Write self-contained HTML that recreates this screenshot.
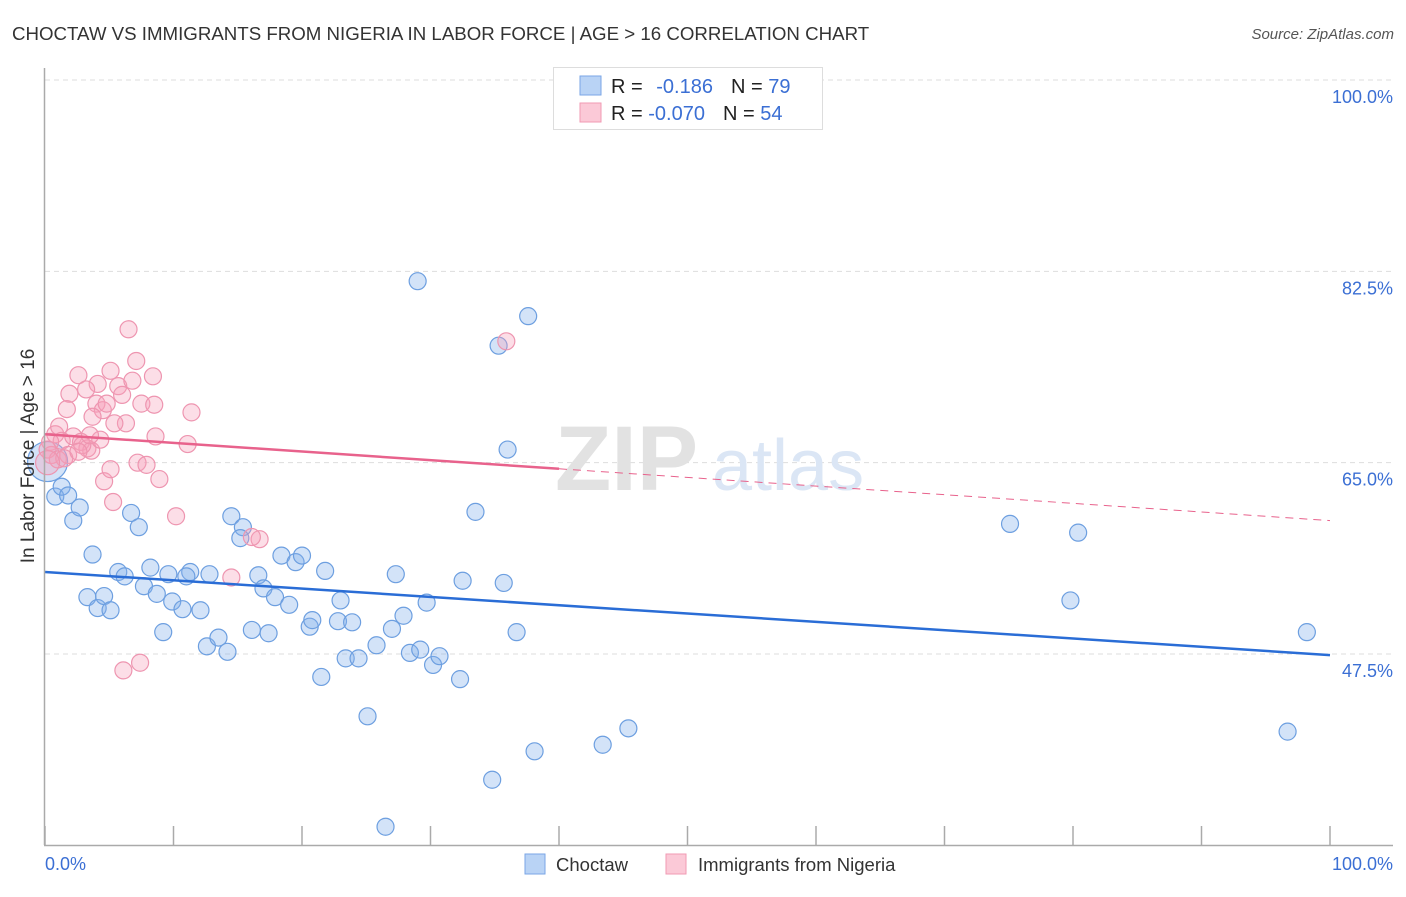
<!DOCTYPE html>
<html><head><meta charset="utf-8">
<style>
body{margin:0;background:#fff;font-family:"Liberation Sans",sans-serif;}
svg text{font-family:"Liberation Sans",sans-serif;}
</style></head>
<body>
<svg id="chart" width="1406" height="892" xmlns="http://www.w3.org/2000/svg">
<text x="12" y="40" font-size="18.7" fill="#333">CHOCTAW VS IMMIGRANTS FROM NIGERIA IN LABOR FORCE | AGE &gt; 16 CORRELATION CHART</text>
<text x="1394" y="39" font-size="15" fill="#555" text-anchor="end" font-style="italic">Source: ZipAtlas.com</text>
<g id="grid"></g>
<text x="555" y="490" font-size="92" fill="#e2e2e2" font-family="Liberation Serif" font-weight="bold">ZIP</text>
<text x="712" y="490" font-size="72" fill="#dbe6f5">atlas</text>
<g id="marks"></g>
<line x1="44.5" y1="68" x2="44.5" y2="845" stroke="#aaa" stroke-width="1.5"/>
<line x1="44" y1="845.5" x2="1393" y2="845.5" stroke="#aaa" stroke-width="1.5"/>
<g id="axes"></g>
<text transform="translate(34,456) rotate(-90)" font-size="19" fill="#333" text-anchor="middle">In Labor Force | Age &gt; 16</text>
<text x="45" y="870" font-size="18" fill="#3b6fd4">0.0%</text>
<text x="1393" y="870" font-size="18" fill="#3b6fd4" text-anchor="end">100.0%</text>
<g>
<rect x="553.5" y="67.5" width="269" height="62" fill="#fff" stroke="#ddd"/>
<rect x="580" y="76" width="21" height="19" fill="#b9d3f5" stroke="#7aa6e6"/>
<rect x="580" y="103" width="21" height="19" fill="#fbc9d7" stroke="#f09ab3"/>
<text x="611" y="93" font-size="20" fill="#222">R = <tspan fill="#3b6fd4" dx="8">-0.186</tspan><tspan dx="18" fill="#222">N = </tspan><tspan fill="#3b6fd4">79</tspan></text>
<text x="611" y="120" font-size="20" fill="#222">R = <tspan fill="#3b6fd4">-0.070</tspan><tspan dx="18" fill="#222">N = </tspan><tspan fill="#3b6fd4">54</tspan></text>
</g>
<g>
<rect x="525" y="854" width="20" height="20" fill="#b9d3f5" stroke="#7aa6e6"/>
<text x="556" y="871" font-size="18.5" fill="#333">Choctaw</text>
<rect x="666" y="854" width="20" height="20" fill="#fbc9d7" stroke="#f09ab3"/>
<text x="698" y="871" font-size="18.5" fill="#333">Immigrants from Nigeria</text>
</g>
</svg>
<script>
const yTicks=[100,82.5,65,47.5];
const yTickLabels=["100.0%","82.5%","65.0%","47.5%"];
const xTicks=[0,10,20,30,40,50,60,70,80,90,100];
const blueX=[29.0,37.6,35.3,36.0,0.8,1.3,1.8,2.2,2.7,3.7,6.7,7.3,5.7,6.2,8.2,3.3,4.1,4.6,5.1,7.7,8.7,9.6,9.2,9.9,10.7,11.3,11.0,12.1,12.8,12.6,13.5,14.2,14.5,15.4,15.2,16.6,17.0,17.9,19.0,16.1,17.4,18.4,19.5,20.0,21.8,20.6,20.8,21.5,23.0,22.8,23.9,23.4,24.4,25.1,25.8,27.0,27.3,27.9,28.4,29.2,29.7,30.2,30.7,32.3,32.5,33.5,35.7,36.7,38.1,34.8,26.5,43.4,45.4,75.1,80.4,79.8,98.2,96.7,0.2];
const blueY=[81.6,78.4,75.7,66.2,61.9,62.8,62.0,59.7,60.9,56.6,60.4,59.1,55.0,54.6,55.4,52.7,51.7,52.8,51.5,53.7,53.0,54.8,49.5,52.3,51.6,55.0,54.6,51.5,54.8,48.2,49.0,47.7,60.1,59.1,58.1,54.7,53.5,52.7,52.0,49.7,49.4,56.5,55.9,56.5,55.1,50.0,50.6,45.4,52.4,50.5,50.4,47.1,47.1,41.8,48.3,49.8,54.8,51.0,47.6,47.9,52.2,46.5,47.3,45.2,54.2,60.5,54.0,49.5,38.6,36.0,31.7,39.2,40.7,59.4,58.6,52.4,49.5,40.4,65.1];
const pinkX=[6.5,7.1,5.1,2.6,4.1,1.9,3.2,4.0,5.7,6.0,8.4,6.8,7.5,8.5,1.7,4.5,4.8,3.7,6.3,11.4,8.6,11.1,0.8,1.1,1.3,2.2,1.8,2.8,3.3,3.6,0.4,0.5,0.2,5.4,7.2,7.9,8.9,4.6,5.1,5.3,10.2,14.5,16.7,16.1,6.1,7.4,35.9,2.9,1.0,1.5,2.6,4.3,3.5,0.2];
const pinkY=[77.2,74.3,73.4,73.0,72.2,71.3,71.7,70.4,72.0,71.2,72.9,72.5,70.4,70.3,69.9,69.8,70.4,69.2,68.6,69.6,67.4,66.7,67.6,68.3,67.0,67.4,65.7,66.9,66.3,66.1,66.9,65.7,66.2,68.6,65.0,64.8,63.5,63.3,64.4,61.4,60.1,54.5,58.0,58.2,46.0,46.7,76.1,66.6,65.3,65.4,66.0,67.1,67.5,65.0];
const blueTrend=[55.0,47.4];
const pinkTrend=[67.6,59.7];
const pinkSolidEnd=40;

const NS="http://www.w3.org/2000/svg";
const X0=45,X1=1330,Y100=80,Y475=654;
function sx(v){return X0+(X1-X0)*v/100;}
function sy(v){return Y100+(100-v)*(Y475-Y100)/52.5;}
function mk(tag,attrs,parent){const e=document.createElementNS(NS,tag);for(const k in attrs)e.setAttribute(k,attrs[k]);parent.appendChild(e);return e;}
const grid=document.getElementById('grid'),axes=document.getElementById('axes'),marks=document.getElementById('marks');
yTicks.forEach((t,i)=>{
  const l=mk('line',{x1:45,x2:1393,y1:sy(t),y2:sy(t),stroke:'#ddd','stroke-dasharray':'5,4'},grid);
  
  
  const tx=mk('text',{x:1393,y:sy(t)+23,'font-size':18,fill:'#3b6fd4','text-anchor':'end'},axes);
  tx.textContent=yTickLabels[i];
  
  
});
xTicks.forEach(t=>{
  const l=mk('line',{x1:sx(t),x2:sx(t),y1:826,y2:845,stroke:'#aaa','stroke-width':1.5},axes);
  
  
});
blueX.forEach((x,i)=>{
  const big=(i===blueX.length-1);
  const c=mk('circle',{cx:sx(x),cy:sy(blueY[i]),r:big?20:8.5,fill:'rgba(130,175,235,0.35)',stroke:'#6d9fe0','stroke-width':1.2},marks);
  
  
});
pinkX.forEach((x,i)=>{
  const big=(i===pinkX.length-1);
  const c=mk('circle',{cx:sx(x),cy:sy(pinkY[i]),r:big?12:8.5,fill:'rgba(245,160,185,0.35)',stroke:'#ee95b0','stroke-width':1.2},marks);
  
  
});
function ty(tr,x){return tr[0]+(tr[1]-tr[0])*x/100;}
const bl=mk('line',{x1:sx(0),y1:sy(ty(blueTrend,0)),x2:sx(100),y2:sy(ty(blueTrend,100)),stroke:'#2a6dd6','stroke-width':2.5},marks);


const pl=mk('line',{x1:sx(0),y1:sy(ty(pinkTrend,0)),x2:sx(pinkSolidEnd),y2:sy(ty(pinkTrend,pinkSolidEnd)),stroke:'#e8628c','stroke-width':2.5},marks);


const pd=mk('line',{x1:sx(pinkSolidEnd),y1:sy(ty(pinkTrend,pinkSolidEnd)),x2:sx(100),y2:sy(ty(pinkTrend,100)),stroke:'#e8628c','stroke-width':1,'stroke-dasharray':'8,6'},marks);


</script>
</body></html>
